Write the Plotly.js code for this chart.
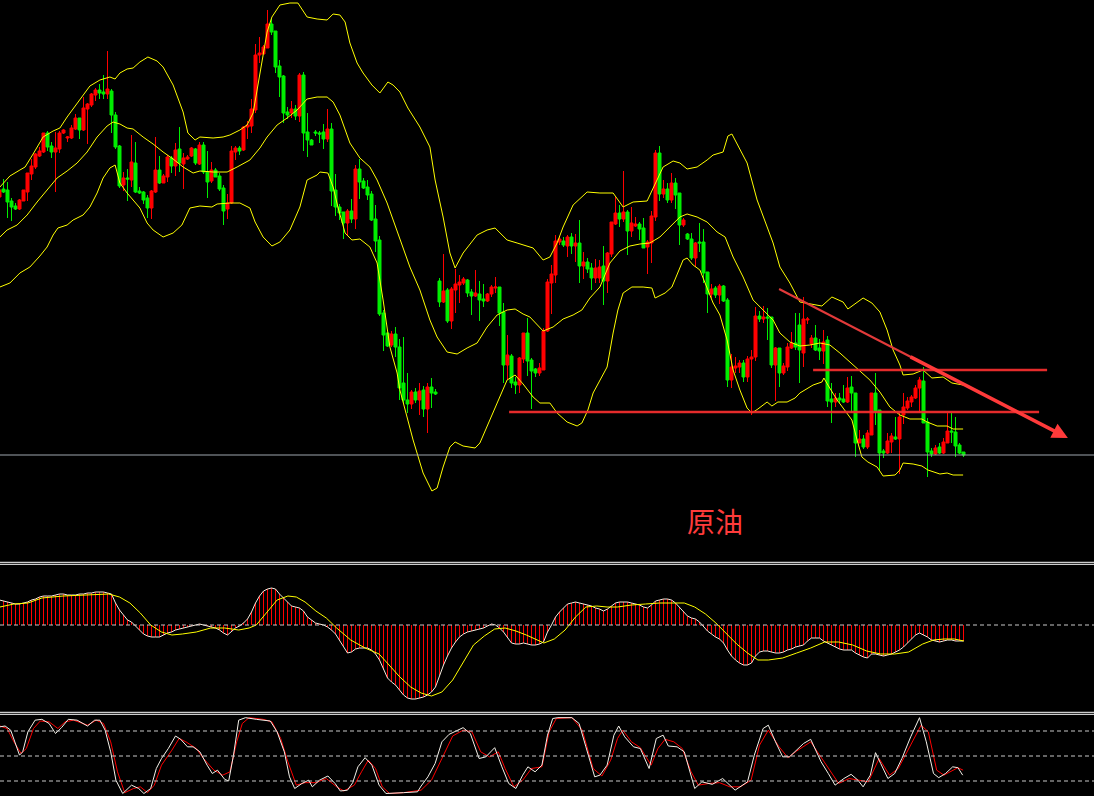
<!DOCTYPE html>
<html>
<head>
<meta charset="utf-8">
<script src="https://cdn.plot.ly/plotly-3.0.1.min.js"></script>
<style>html,body{margin:0;padding:0;background:#000;}#chart{width:1094px;height:796px;}</style>
</head>
<body>
<div id="chart"></div>
<script>
// ---- price candles (index -1 .. 240) ----
const openP = [80.3,81.1,81.0,79.9,79.4,79.1,79.9,80.8,82.6,83.3,84.4,
84.8,86.7,85.4,84.8,85.1,86.7,86.2,86.2,87.1,88.2,
87.0,89.1,89.5,90.5,91.0,90.8,90.6,90.9,88.5,85.4,
81.5,82.2,82.0,83.7,80.9,80.8,80.2,79.2,80.8,83.0,
81.7,82.3,84.2,83.4,85.1,83.6,84.1,84.4,85.1,83.6,
85.5,82.8,81.9,83.0,82.4,81.2,79.1,79.7,84.8,85.2,
85.0,87.3,87.4,89.0,94.5,94.6,95.2,97.6,96.9,93.4,
92.4,88.8,88.7,89.1,88.4,92.5,86.8,86.0,86.8,86.7,
86.8,86.1,87.1,81.0,79.3,78.8,77.7,78.9,78.1,83.1,
81.9,81.3,80.6,78.1,76.0,68.7,66.7,65.5,66.6,65.3,
61.7,60.0,59.6,60.8,60.0,61.0,59.1,61.3,60.8,71.9,
69.8,71.0,67.9,71.0,71.5,71.7,72.0,70.8,70.4,70.6,
70.1,69.9,70.6,71.2,71.3,68.8,63.5,64.4,61.8,61.5,
64.1,66.7,64.0,63.1,62.7,63.0,66.9,71.7,72.5,75.8,
75.9,75.4,76.3,75.4,75.7,73.4,73.8,73.2,72.2,72.2,
73.4,71.9,74.6,77.6,78.7,78.1,78.8,76.9,77.4,77.6,
77.2,75.3,75.7,78.3,84.7,80.6,81.1,80.0,81.7,80.7,
77.5,76.6,76.1,74.2,75.8,75.8,72.8,70.6,71.2,70.5,
71.4,70.0,62.0,63.2,63.3,63.7,62.3,64.1,64.3,68.4,
68.1,68.3,68.3,63.5,65.2,62.7,63.3,65.2,65.7,67.5,
64.7,68.0,65.6,66.2,65.2,64.9,66.0,60.1,59.8,60.2,
60.1,59.8,61.3,60.7,55.7,56.1,55.3,56.5,60.7,59.0,
54.9,54.7,55.8,56.3,56.1,58.5,59.2,59.8,60.2,61.2,
61.9,57.8,54.9,54.6,55.3,54.7,55.7,56.9,56.8,55.5,
54.8];
const highP = [81.1,82.1,81.8,80.2,79.7,80.1,81.0,82.7,84.1,84.7,85.3,
86.7,86.9,85.8,86.8,86.9,87.1,86.4,87.5,88.6,88.2,
90.3,89.7,90.7,91.2,91.6,92.5,94.9,91.1,88.8,85.5,
82.8,83.1,86.5,85.8,81.3,80.9,80.5,81.0,86.3,84.4,
82.6,84.5,84.4,85.7,87.3,84.7,84.5,85.3,85.2,85.8,
85.8,84.9,83.8,83.2,82.7,81.5,80.6,85.4,85.4,85.4,
87.4,87.9,90.1,95.6,96.3,95.5,99.0,98.1,96.9,94.0,
92.5,89.3,89.9,89.5,92.7,92.8,88.7,86.1,87.0,86.9,
87.6,89.1,87.7,82.6,79.6,78.8,79.1,80.1,83.5,84.1,
82.2,82.0,80.9,79.5,76.4,69.0,66.7,66.9,67.3,66.1,
66.3,62.7,61.0,61.2,61.7,61.4,61.7,62.2,61.1,72.2,
74.6,71.2,71.3,73.1,72.5,72.3,72.1,71.1,73.0,71.9,
71.6,70.7,71.5,72.3,71.3,69.7,66.5,64.6,62.3,64.3,
66.7,68.2,64.2,63.2,63.7,67.2,72.1,73.5,76.5,76.4,
76.3,76.5,76.7,76.6,78.0,74.8,74.2,73.7,74.1,74.0,
75.4,74.8,77.8,80.3,79.5,82.9,79.0,79.3,78.3,77.8,
78.2,76.0,78.9,85.0,85.4,82.0,81.7,82.7,82.2,80.7,
78.2,76.7,76.7,75.8,77.7,77.1,72.8,71.6,71.4,71.6,
71.5,70.2,64.6,64.3,64.0,64.0,64.4,65.0,69.3,68.9,
69.4,69.2,68.3,65.3,65.2,63.7,65.7,66.8,68.7,68.7,
70.3,68.3,66.5,67.5,66.1,67.0,66.4,61.7,60.7,60.7,
61.5,62.3,62.4,60.7,57.0,56.5,57.0,60.7,62.7,59.0,
55.1,56.7,56.7,58.3,58.7,60.7,60.3,60.5,61.5,62.3,
63.3,58.2,55.2,55.5,55.7,56.2,58.7,58.7,58.3,55.7,
54.8];
const lowP = [80.2,80.7,78.2,77.9,79.0,79.0,79.9,79.9,82.0,83.1,84.3,
84.7,84.9,84.2,80.8,84.7,86.6,85.8,86.1,87.0,86.1,
86.9,85.6,89.3,89.9,90.1,90.1,90.1,86.7,85.1,81.2,
80.9,79.9,81.3,80.7,80.6,79.6,78.2,78.1,80.7,81.6,
81.7,81.8,82.7,82.4,82.8,81.1,84.0,84.3,83.5,83.5,
82.6,80.2,81.7,82.3,80.9,77.5,78.1,79.6,84.0,84.5,
84.9,86.1,86.7,88.7,93.7,94.6,95.2,96.5,92.7,90.3,
87.7,88.1,88.2,88.0,87.8,84.9,84.3,85.5,86.4,85.7,
85.1,85.8,79.4,78.4,78.0,76.1,76.5,77.7,77.1,80.1,
81.1,80.0,77.9,74.8,68.4,64.9,65.3,65.3,64.3,60.0,
59.6,58.7,59.1,59.7,58.5,58.3,56.7,59.2,60.5,69.3,
69.7,67.7,67.1,68.7,69.7,71.5,70.3,68.5,70.3,67.9,
69.3,69.8,70.3,70.7,67.4,61.7,62.0,61.2,60.6,60.7,
63.7,62.4,59.1,62.3,62.4,63.0,66.8,68.6,71.7,75.5,
75.3,74.3,74.6,73.8,71.7,72.1,72.7,71.0,71.7,71.7,
69.5,70.7,74.3,77.5,77.3,77.8,74.5,76.3,77.3,76.0,
75.2,72.6,73.7,77.9,79.9,80.2,79.7,79.7,79.1,75.5,
77.3,76.0,74.0,73.3,74.8,71.7,68.7,70.2,70.2,69.6,
69.8,61.3,61.2,62.7,62.7,61.8,61.8,58.5,63.9,67.8,
67.7,66.0,63.2,59.9,61.3,62.5,62.9,65.1,65.0,61.7,
63.3,67.6,65.2,64.9,64.0,63.6,59.3,57.7,59.3,59.7,
59.7,59.7,58.7,54.3,55.7,55.1,55.1,56.5,57.5,52.9,
54.2,54.6,54.7,56.0,52.6,57.6,59.0,59.3,60.1,58.7,
57.7,52.3,54.3,54.5,54.6,54.6,55.7,55.7,54.3,54.6,
54.3];
const closeP = [81.0,80.8,79.8,79.3,79.1,80.0,81.0,82.7,83.4,84.6,84.9,
86.7,85.3,84.8,85.2,86.7,87.0,86.3,87.2,88.2,87.0,
89.2,89.6,90.6,91.0,90.7,90.6,91.1,88.5,85.3,81.4,
82.2,82.1,83.8,80.8,80.7,80.0,79.2,80.9,83.0,81.7,
82.4,84.3,83.4,85.0,83.7,84.2,84.3,85.2,83.7,85.5,
82.8,81.8,83.0,82.3,81.1,78.9,79.7,84.9,85.2,84.9,
87.3,87.5,89.1,94.5,94.7,95.3,97.6,96.8,93.3,92.3,
88.7,88.5,89.1,88.4,92.5,86.7,86.0,85.5,86.7,86.6,
86.1,87.1,80.9,79.3,78.7,77.7,78.9,78.1,83.1,81.8,
81.2,80.5,78.0,75.9,68.6,66.5,65.4,66.6,65.3,61.2,
60.0,59.6,60.8,60.0,60.9,59.1,61.3,60.7,60.6,69.8,
70.9,67.9,71.1,71.6,71.8,72.1,70.7,70.4,70.7,70.0,
69.9,70.6,71.3,71.3,68.7,63.5,64.5,61.7,61.5,64.2,
66.7,63.9,62.9,62.7,63.2,66.9,71.8,72.6,75.9,76.1,
75.5,76.3,75.4,75.7,73.4,73.8,73.1,72.2,73.2,73.3,
71.9,74.7,77.8,78.7,78.1,78.8,76.9,77.7,77.6,77.1,
75.2,75.8,78.4,84.7,80.6,81.1,80.0,81.7,80.5,77.5,
78.0,76.1,74.2,75.7,75.7,72.7,70.6,71.1,70.5,71.4,
69.9,62.0,63.3,63.4,63.7,62.3,64.1,64.3,68.4,68.1,
68.3,68.2,63.5,65.2,62.7,63.4,65.3,65.7,65.3,65.0,
68.1,68.1,66.2,65.0,64.9,65.8,59.9,59.8,60.2,60.0,
59.8,61.2,60.7,55.7,56.1,55.3,56.7,60.7,58.9,54.7,
54.7,55.9,56.4,56.1,58.3,59.3,59.9,60.3,61.2,62.0,
57.7,54.8,54.6,55.2,54.7,55.8,56.9,56.8,55.4,54.7,
54.5];

// ---- Bollinger bands [bar index, price] ----
const bandUpper = [[-0.9,81.3],[1.6,82.4],[4.1,83.0],[5.4,83.3],[7.4,84.6],[9.9,86.3],[12.4,86.9],[14.1,87.2],[15.9,88.3],[19.1,90.0],[21.6,91.4],[24.1,92.0],[26.6,92.3],[27.9,92.1],[29.1,92.7],[30.9,93.1],[32.4,93.2],[34.1,93.8],[36.1,94.3],[38.4,93.9],[39.9,93.3],[42.4,91.5],[44.9,88.8],[46.1,86.7],[47.9,86.0],[49.1,86.3],[52.4,86.2],[54.9,86.3],[56.6,86.5],[59.1,87.0],[60.9,87.5],[62.4,88.7],[64.1,92.8],[65.9,96.8],[67.1,98.3],[69.1,99.5],[71.6,99.7],[73.6,99.7],[75.9,98.3],[78.4,98.1],[80.9,98.0],[82.4,98.6],[84.1,98.5],[85.4,97.8],[86.6,95.7],[88.4,93.7],[89.9,92.7],[92.1,91.5],[94.1,90.7],[96.1,91.8],[97.4,91.5],[99.1,90.8],[101.1,89.2],[104.1,87.3],[106.6,85.3],[107.9,82.0],[109.9,78.3],[111.6,74.7],[112.9,73.2],[114.9,74.7],[118.4,76.5],[120.9,77.0],[122.9,77.2],[125.9,76.0],[128.4,75.7],[130.9,75.4],[132.4,75.2],[134.9,74.0],[136.6,74.3],[138.4,75.7],[139.9,77.3],[142.4,79.5],[145.9,80.8],[149.1,80.7],[152.4,80.7],[154.9,79.3],[157.4,79.8],[160.9,79.9],[162.4,81.2],[164.9,83.3],[167.4,83.9],[169.1,83.7],[170.9,83.1],[173.4,83.3],[175.9,84.0],[177.4,84.5],[179.9,84.8],[181.1,86.4],[182.1,86.6],[184.1,85.0],[185.9,83.7],[188.4,80.0],[190.9,77.3],[192.4,75.7],[194.1,73.3],[196.6,71.7],[199.1,69.8],[204.6,69.4],[207.1,70.3],[209.9,69.8],[211.1,69.1],[214.9,70.2],[217.1,69.7],[219.1,68.8],[220.9,67.0],[222.4,65.0],[224.1,63.5],[224.9,62.5],[227.4,62.6],[229.9,63.0],[232.1,62.2],[234.9,62.3],[237.1,61.7],[239.9,61.5]];
const bandMiddle = [[-0.9,76.3],[0.9,77.0],[3.4,77.5],[5.9,78.5],[8.4,79.8],[10.9,81.0],[13.4,82.2],[15.9,82.9],[18.4,83.7],[20.9,84.8],[23.4,86.3],[25.9,87.4],[27.4,87.8],[29.1,87.6],[30.9,87.2],[32.4,87.1],[34.9,86.3],[37.4,85.6],[39.9,84.8],[42.4,84.1],[44.9,83.3],[47.4,82.7],[49.1,82.9],[52.4,82.8],[55.9,82.8],[58.4,83.3],[61.6,84.0],[64.1,85.2],[65.9,86.3],[68.4,87.5],[70.9,88.2],[73.4,89.0],[75.9,90.1],[78.4,90.3],[80.9,90.3],[82.4,89.8],[84.1,88.5],[86.6,85.7],[89.1,84.2],[91.6,83.3],[93.4,82.0],[95.9,79.7],[99.1,76.0],[101.6,73.3],[104.1,71.0],[106.6,68.0],[108.4,66.3],[110.9,64.8],[113.4,64.6],[115.9,65.2],[118.4,65.7],[120.9,67.3],[123.4,68.5],[125.9,69.0],[127.9,69.1],[129.9,68.6],[131.6,68.3],[133.4,67.5],[134.9,66.9],[137.4,67.3],[139.9,68.1],[142.4,68.5],[144.6,69.0],[146.6,70.2],[149.1,71.3],[151.6,73.7],[154.1,74.9],[156.6,75.4],[159.1,75.6],[161.6,75.7],[164.1,76.3],[166.6,77.3],[169.1,78.3],[170.9,78.6],[173.4,78.3],[175.9,77.8],[178.4,76.8],[180.4,76.3],[182.4,74.3],[184.9,72.3],[187.4,70.0],[189.9,69.0],[192.4,68.0],[194.1,66.7],[196.6,65.8],[199.1,65.4],[201.6,65.5],[204.1,65.7],[206.6,65.5],[209.1,64.7],[211.6,63.8],[214.1,63.0],[216.6,62.0],[219.1,60.8],[221.6,59.3],[224.1,58.5],[226.6,58.1],[229.6,58.1],[230.9,57.8],[233.4,57.4],[235.9,57.4],[237.4,57.1],[239.9,57.1]];
const bandLower = [[-0.9,71.3],[1.6,71.7],[4.1,72.7],[6.6,73.3],[9.1,74.4],[10.9,75.3],[12.4,76.5],[13.6,77.2],[15.9,77.5],[17.4,78.0],[19.9,78.5],[21.6,79.3],[23.4,80.7],[24.9,82.2],[26.6,83.2],[27.9,83.5],[29.1,81.7],[30.9,80.7],[32.4,80.0],[34.1,79.2],[35.9,77.7],[37.4,77.0],[39.9,76.3],[42.4,76.7],[44.6,77.5],[46.6,79.2],[49.1,79.4],[52.1,79.3],[53.4,79.6],[56.6,79.7],[59.1,79.7],[61.6,79.2],[62.9,77.8],[64.9,76.3],[67.1,75.4],[69.1,75.8],[71.6,77.0],[74.1,79.3],[75.9,82.0],[78.4,82.5],[79.1,82.8],[81.1,82.7],[82.4,81.3],[83.6,79.3],[85.4,76.7],[87.1,76.0],[89.1,76.1],[91.6,75.3],[93.4,73.7],[94.9,70.0],[96.6,65.3],[98.4,62.7],[99.1,61.0],[100.9,58.3],[102.4,56.0],[104.9,52.7],[107.1,50.9],[108.4,51.2],[109.9,53.3],[111.6,55.3],[112.9,55.8],[114.9,55.4],[117.9,55.2],[119.1,55.7],[121.6,58.0],[124.1,60.3],[125.9,62.0],[127.9,62.5],[129.9,61.6],[132.4,60.3],[134.1,59.7],[136.6,59.7],[138.4,58.7],[140.9,57.8],[143.4,57.4],[144.6,57.7],[146.1,59.0],[147.4,60.7],[149.1,62.0],[150.9,63.3],[152.4,66.7],[153.6,69.0],[154.9,70.7],[157.1,71.3],[159.9,71.3],[162.1,71.2],[162.9,70.2],[165.4,70.7],[167.1,71.3],[168.6,72.7],[169.9,74.0],[170.9,74.2],[172.4,73.5],[174.1,73.0],[175.9,71.3],[177.4,69.7],[179.1,68.5],[180.9,66.0],[182.4,63.0],[184.1,61.0],[185.9,59.2],[187.1,58.7],[188.6,59.1],[190.9,59.8],[192.1,59.4],[193.6,59.8],[195.9,59.8],[197.9,60.2],[199.1,60.7],[202.4,61.5],[204.6,61.8],[205.1,62.2],[206.1,61.5],[208.4,60.0],[209.9,59.2],[212.1,58.0],[213.4,56.0],[214.6,54.3],[216.1,53.8],[218.4,53.3],[219.9,52.4],[222.9,52.5],[224.1,53.0],[224.9,53.7],[227.4,53.6],[229.6,53.4],[231.1,53.0],[232.9,52.8],[234.1,52.6],[235.9,52.7],[237.4,52.5],[239.9,52.5]];

// ---- MACD (per bar) and signal ----
const macd = [0.25,0.24,0.23,0.22,0.21,0.21,0.22,0.23,0.25,0.26,0.28,
0.29,0.29,0.29,0.30,0.31,0.31,0.30,0.30,0.30,0.31,
0.31,0.32,0.32,0.33,0.33,0.33,0.32,0.31,0.22,0.15,
0.10,0.05,0.03,-0.01,-0.05,-0.09,-0.11,-0.12,-0.12,-0.12,
-0.10,-0.08,-0.07,-0.05,-0.04,-0.03,-0.02,-0.01,0.00,0.01,
0.00,-0.01,-0.02,-0.03,-0.05,-0.08,-0.10,-0.06,-0.03,-0.01,
0.02,0.06,0.13,0.22,0.29,0.34,0.36,0.37,0.36,0.31,
0.27,0.23,0.19,0.18,0.17,0.14,0.08,0.05,0.02,0.01,
0.00,-0.02,-0.05,-0.09,-0.15,-0.21,-0.28,-0.27,-0.24,-0.23,
-0.23,-0.23,-0.25,-0.29,-0.35,-0.45,-0.53,-0.57,-0.60,-0.65,
-0.70,-0.73,-0.74,-0.74,-0.73,-0.72,-0.70,-0.67,-0.62,-0.50,
-0.40,-0.31,-0.23,-0.17,-0.12,-0.09,-0.07,-0.06,-0.05,-0.04,
-0.03,-0.01,0.01,0.00,-0.03,-0.07,-0.12,-0.18,-0.19,-0.19,
-0.18,-0.19,-0.20,-0.20,-0.19,-0.17,-0.07,0.00,0.08,0.13,
0.17,0.21,0.22,0.23,0.22,0.21,0.20,0.19,0.17,0.16,
0.14,0.16,0.19,0.22,0.23,0.23,0.23,0.22,0.21,0.20,
0.18,0.17,0.20,0.24,0.25,0.26,0.26,0.25,0.22,0.18,
0.14,0.09,0.07,0.06,0.03,-0.02,-0.06,-0.09,-0.12,-0.14,
-0.18,-0.25,-0.31,-0.35,-0.38,-0.40,-0.40,-0.38,-0.31,-0.27,
-0.26,-0.26,-0.27,-0.28,-0.28,-0.27,-0.25,-0.24,-0.22,-0.21,
-0.20,-0.16,-0.13,-0.13,-0.13,-0.16,-0.18,-0.20,-0.22,-0.24,
-0.25,-0.25,-0.25,-0.28,-0.30,-0.32,-0.33,-0.29,-0.29,-0.30,
-0.31,-0.30,-0.29,-0.27,-0.25,-0.22,-0.18,-0.14,-0.10,-0.08,
-0.10,-0.12,-0.15,-0.16,-0.17,-0.16,-0.15,-0.15,-0.16,-0.16,
-0.16];
const macdSignal = [[-0.9,0.18],[2.6,0.21],[6.1,0.22],[9.6,0.27],[14.9,0.29],[21.1,0.30],[26.3,0.31],[29,0.28],[31.6,0.22],[34.2,0.12],[36.8,0.00],[39.5,-0.07],[42.1,-0.10],[44.7,-0.09],[48.2,-0.07],[51.8,-0.03],[55.3,-0.03],[58.8,-0.05],[61.4,-0.03],[63.2,0.00],[65.8,0.13],[68.4,0.25],[71.1,0.29],[73.2,0.28],[75.4,0.23],[78.1,0.14],[80.7,0.07],[83.3,-0.03],[86.8,-0.15],[90.4,-0.23],[93.9,-0.29],[96.5,-0.40],[99.1,-0.52],[101.8,-0.62],[104.4,-0.68],[107,-0.71],[109.6,-0.67],[112.3,-0.55],[114.9,-0.37],[117.5,-0.20],[120.2,-0.11],[122.8,-0.04],[125.4,-0.03],[128.1,-0.06],[130.7,-0.10],[133.3,-0.15],[135.1,-0.18],[137.7,-0.14],[140.4,-0.05],[143,0.08],[145.6,0.18],[148.3,0.19],[150.9,0.18],[153.5,0.18],[157,0.20],[160.5,0.21],[164,0.22],[167.6,0.22],[170.2,0.22],[172.8,0.18],[175.5,0.11],[178.1,0.02],[180.7,-0.08],[183.3,-0.19],[186,-0.28],[188.6,-0.35],[191.2,-0.35],[194.8,-0.33],[198.3,-0.28],[201.8,-0.23],[205.3,-0.17],[208.8,-0.17],[212.3,-0.20],[215.8,-0.26],[219.3,-0.29],[222.8,-0.29],[226.3,-0.27],[229.8,-0.19],[232.5,-0.15],[235.1,-0.14],[237.7,-0.14],[240.1,-0.16]];

// ---- Stochastic %K / %D ----
const stochK = [[-0.9,85],[0.4,86],[1.8,81],[3.1,63],[4,51],[4.8,55],[6.1,79],[7.9,93],[9.6,94],[11.4,89],[13,77],[14.5,84],[16.2,94],[18.4,93],[21,86],[22.8,93],[24.1,93],[25.4,81],[26.8,55],[28.1,21],[29.8,5],[32,15],[33.8,11],[35.1,5],[36.8,11],[38.2,35],[39.5,47],[41.2,59],[43,74],[44.3,70],[46,61],[47.4,61],[49.1,55],[50.9,39],[52.2,29],[53.5,33],[55.3,22],[56.3,20],[57.5,51],[58.8,93],[60.5,96],[63.2,94],[66.7,92],[68.4,79],[70.2,55],[71.5,25],[72.8,11],[74.6,17],[76.3,21],[77.2,13],[79,21],[81.1,26],[82.9,17],[84.2,8],[86,9],[87.3,18],[88.6,37],[90.4,48],[92.1,39],[93.9,15],[95.6,5],[100,6],[103.5,7],[104.4,14],[106.1,25],[107.9,41],[109.6,67],[111.4,76],[113.2,80],[114.9,84],[116.7,77],[118.9,47],[120.6,49],[122.8,60],[124.6,37],[126.3,17],[128.1,11],[129.8,27],[131.1,37],[132.9,31],[134.6,39],[136,75],[137.3,95],[138.6,96],[142.1,96],[143.9,89],[145.6,61],[147.8,25],[149.1,27],[150.9,39],[152.6,75],[153.8,86],[155.3,73],[157.5,61],[159.2,59],[161.4,35],[163.2,71],[164.9,75],[166.2,62],[168.4,61],[170.2,55],[172.8,11],[174.6,19],[177.2,16],[179.8,23],[182.9,9],[186,19],[187.7,51],[189.9,83],[191.2,87],[193,67],[194.8,49],[196.5,49],[198.3,57],[200,65],[201.8,70],[204.4,43],[206.2,29],[207.9,15],[210.1,23],[211.9,28],[213.6,21],[214.9,13],[216.7,27],[218,54],[219.3,41],[221.1,23],[222.8,29],[224.6,47],[226.8,73],[229,96],[230.7,67],[232.5,29],[233.8,24],[235.5,29],[237.3,37],[238.6,36],[239.8,27]];
const stochD = [[-0.9,86],[0.9,83],[2.6,67],[4.4,53],[5.7,59],[7.5,83],[9.2,92],[11.4,91],[13.6,83],[15.4,91],[17.5,93],[21,87],[23.2,93],[25,89],[26.8,67],[28.5,31],[30.3,6],[32.5,11],[34.2,13],[36,6],[37.7,15],[39.5,39],[42.1,57],[43.9,71],[45.6,67],[48.2,59],[50,47],[52.6,33],[54.8,27],[56.6,31],[58.3,67],[59.7,89],[61.4,96],[64.9,94],[67.1,91],[69.3,71],[71.1,43],[73.2,15],[75.4,18],[78.1,18],[80.7,23],[83.3,13],[85.1,8],[87.7,15],[89.5,31],[91.2,45],[93,35],[94.7,13],[96.5,5],[100,6],[104.4,9],[107,21],[109.6,47],[112.3,74],[114.9,81],[117.1,79],[119.3,55],[121.5,49],[123.7,55],[125.4,35],[127.6,13],[129.8,21],[132,35],[134.6,37],[136.4,79],[138.2,95],[142.1,96],[144.7,81],[147.4,35],[149.6,26],[151.8,45],[153.5,71],[154.8,81],[157,67],[159.2,60],[161.9,39],[163.6,59],[165.4,70],[167.6,67],[169.7,59],[171.9,31],[173.7,15],[176.3,17],[179,18],[181.6,13],[184.2,13],[186.9,21],[189,63],[191.2,81],[193.9,61],[196.1,48],[198.3,56],[201.8,67],[204.4,49],[207,31],[208.8,17],[211.4,23],[214,21],[216.2,19],[218.9,47],[221.5,27],[223.7,35],[226.3,59],[229.4,87],[231.2,79],[233.3,33],[235.1,27],[237.3,33],[238.6,36],[239.9,33]];
const stochLevels = [80, 50, 20];

// ---- drawn studies ----
const lastPriceLine = 54.5;
const supportLevels = [{y: 63.0, from: 202.4, to: 260.9}, {y: 58.8, from: 126.4, to: 258.9}];
const trendArrow = {from: [193.9, 71.1], to: [266.1, 56.2]};
const label = '原油';

const idx = openP.map((_, i) => i - 1);
const col = (arr, j) => arr.map(p => p[j]);

const traces = [
  {type:'candlestick', x: idx, open: openP, high: highP, low: lowP, close: closeP,
   increasing:{line:{color:'#ff0000', width:1}, fillcolor:'#ff0000'},
   decreasing:{line:{color:'#00ee00', width:1}, fillcolor:'#00ee00'},
   whiskerwidth:0, hoverinfo:'none', xaxis:'x', yaxis:'y'},
  {type:'scatter', mode:'lines', x: col(bandUpper,0), y: col(bandUpper,1), line:{color:'#ffff00', width:1}, hoverinfo:'skip'},
  {type:'scatter', mode:'lines', x: col(bandMiddle,0), y: col(bandMiddle,1), line:{color:'#ffff00', width:1}, hoverinfo:'skip'},
  {type:'scatter', mode:'lines', x: col(bandLower,0), y: col(bandLower,1), line:{color:'#ffff00', width:1}, hoverinfo:'skip'},
  {type:'bar', x: idx, y: macd, width: 0.25, marker:{color:'#ff0000', line:{width:0}}, yaxis:'y2', hoverinfo:'skip'},
  {type:'scatter', mode:'lines', x: idx, y: macd, line:{color:'#f2eadc', width:1}, yaxis:'y2', hoverinfo:'skip'},
  {type:'scatter', mode:'lines', x: col(macdSignal,0), y: col(macdSignal,1), line:{color:'#ffff00', width:1}, yaxis:'y2', hoverinfo:'skip'},
  {type:'scatter', mode:'lines', x: col(stochD,0), y: col(stochD,1), line:{color:'#ff0000', width:1}, yaxis:'y3', hoverinfo:'skip'},
  {type:'scatter', mode:'lines', x: col(stochK,0), y: col(stochK,1), line:{color:'#f4f0e8', width:1}, yaxis:'y3', hoverinfo:'skip'}
];

const H = 796;
const pY = px => 1 - px / H;
const shapes = [];
// panel separators
[562.3, 564.3, 712.3, 714.3].forEach(py => shapes.push({type:'line', xref:'paper', yref:'paper', x0:0, x1:1, y0:pY(py), y1:pY(py), line:{color:'#ffffff', width:1}}));
// last price line
shapes.push({type:'line', xref:'paper', yref:'y', x0:0, x1:1, y0:lastPriceLine, y1:lastPriceLine, line:{color:'#9ea6ae', width:1}});
// red support lines
supportLevels.forEach(s => shapes.push({type:'line', xref:'x', yref:'y', x0:s.from, x1:s.to, y0:s.y, y1:s.y, line:{color:'rgba(240,45,45,0.95)', width:2.5}}));
// trend line: thin first part (the arrow annotation thickens the second part)
const mid = t => [trendArrow.from[0] + (trendArrow.to[0] - trendArrow.from[0]) * t, trendArrow.from[1] + (trendArrow.to[1] - trendArrow.from[1]) * t];
const tMid = mid(0.5);
shapes.push({type:'line', xref:'x', yref:'y', x0:trendArrow.from[0], y0:trendArrow.from[1], x1:tMid[0], y1:tMid[1], line:{color:'#e23a3a', width:2}});
// MACD zero line
shapes.push({type:'line', xref:'paper', yref:'y2', x0:0, x1:1, y0:0, y1:0, line:{color:'#c8c8c8', width:1, dash:'4px,3px'}});
// stochastic levels
stochLevels.forEach(v => shapes.push({type:'line', xref:'paper', yref:'y3', x0:0, x1:1, y0:v, y1:v, line:{color:'#c8c8c8', width:1, dash:'4px,3px'}}));

const tStart = mid(0.45);
const layout = {
  width:1094, height:796, margin:{l:0, r:0, t:0, b:0},
  paper_bgcolor:'#000000', plot_bgcolor:'#000000', showlegend:false,
  boxgap:0.25, boxgroupgap:0, bargap:0,
  xaxis:{range:[-0.875, 272.625], visible:false, showgrid:false, zeroline:false, rangeslider:{visible:false}, fixedrange:true},
  yaxis:{domain:[pY(562), 1], range:[43.8, 100], visible:false, showgrid:false, zeroline:false},
  yaxis2:{domain:[pY(712), pY(565)], range:[-0.87, 0.60], visible:false, showgrid:false, zeroline:false},
  yaxis3:{domain:[0, pY(715)], range:[2.0, 99.2], visible:false, showgrid:false, zeroline:false},
  shapes: shapes,
  annotations:[
    {xref:'x', yref:'y', axref:'x', ayref:'y', x: trendArrow.to[0], y: trendArrow.to[1], ax: tStart[0], ay: tStart[1],
     text:'', showarrow:true, arrowhead:2, arrowsize:0.9, arrowwidth:3.5, arrowcolor:'#ff3a3a', standoff:0},
    {xref:'paper', yref:'paper', x: 715/1094, y: pY(521), text: label, showarrow:false,
     font:{family:'Noto Sans CJK SC', size:28, color:'#ff3b3b'}}
  ]
};

Plotly.newPlot('chart', traces, layout, {staticPlot:true, displayModeBar:false});
</script>
</body>
</html>
